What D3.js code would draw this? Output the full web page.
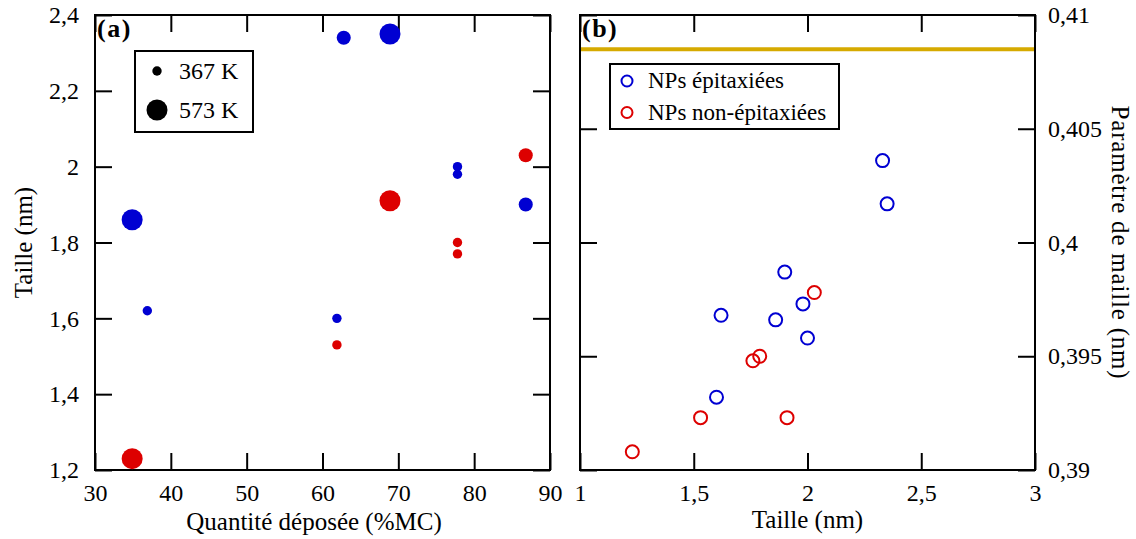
<!DOCTYPE html>
<html>
<head>
<meta charset="utf-8">
<script src="https://cdn.jsdelivr.net/npm/d3@7"></script>
<style>
  html, body { margin: 0; padding: 0; background: #fff; }
  svg { display: block; }
</style>
</head>
<body>
<svg id="chart" width="1136" height="539" font-family="Liberation Serif"></svg>
<script>
// ---------- DATA ----------
// Panel (a): deposited quantity vs size
const depot       = [34.9, 34.9, 36.9, 62.8, 68.9, 61.9, 61.9, 68.9, 77.8, 77.8, 77.8, 77.8, 86.8, 86.8];
const tailleA     = [1.86, 1.23, 1.62, 2.34, 2.35, 1.60, 1.53, 1.91, 2.00, 1.98, 1.80, 1.77, 2.03, 1.90];
const temperature = [573, 573, 367, 450, 573, 367, 367, 573, 367, 367, 367, 367, 450, 450];
const epitaxie    = [true, false, true, true, true, true, false, false, true, true, false, false, false, true];
const legendTemps = [367, 573];

// Panel (b): size vs lattice parameter
const tailleEpi    = [2.33, 2.35, 1.90, 1.62, 1.86, 1.98, 2.00, 1.60];
const mailleEpi    = [0.4036, 0.4017, 0.3987, 0.3968, 0.3966, 0.3973, 0.3958, 0.3932];
const tailleNonEpi = [2.03, 1.79, 1.76, 1.53, 1.91, 1.23];
const mailleNonEpi = [0.3978, 0.3950, 0.3948, 0.3923, 0.3923, 0.3908];
const mailleRef    = 0.4085;
const seriesNames  = ["NPs épitaxiées", "NPs non-épitaxiées"];

// Ticks
const xTicksA = [30, 40, 50, 60, 70, 80, 90];
const yTicksA = [1.2, 1.4, 1.6, 1.8, 2.0, 2.2, 2.4];
const xTicksB = [1, 1.5, 2, 2.5, 3];
const yTicksB = [0.39, 0.395, 0.4, 0.405, 0.41];

// ---------- STYLE ----------
const FONT = "Liberation Serif";
const BLUE = "#0000d2", RED = "#dd0000", GOLD = "#d6aa00";
const locale = d3.formatLocale({decimal: ",", thousands: " ", grouping: [3], currency: ["", ""]});
const fmt = locale.format("~g");

const svg = d3.select("#chart");
const yTop = 15, yBot = 470;
const A = {x0: 95, x1: 550};
const B = {x0: 580, x1: 1035};
const TICK = 17;

function styleAxis(g) {
  g.attr("font-family", FONT).attr("font-size", 24);
  g.select(".domain").remove();
  g.selectAll(".tick line").attr("stroke", "#000").attr("stroke-width", 2);
  g.selectAll(".tick text").attr("fill", "#000").attr("font-family", FONT).attr("font-size", 24);
}
function label(g, size) {
  return g.append("text").attr("font-family", FONT).attr("font-size", size).attr("fill", "#000");
}

// ---------- PANEL A ----------
const xA = d3.scaleLinear().domain([30, 90]).range([A.x0, A.x1]);
const yA = d3.scaleLinear().domain([1.2, 2.4]).range([yBot, yTop]);
const rA = d3.scaleLinear().domain([367, 573]).range([4.7, 10.5]);

const gA = svg.append("g");

gA.append("g").attr("transform", `translate(0,${yBot})`)
  .call(d3.axisBottom(xA).tickValues(xTicksA).tickFormat(fmt).tickSizeInner(-TICK).tickSizeOuter(0).tickPadding(14))
  .call(styleAxis);
gA.append("g").attr("transform", `translate(0,${yTop})`)
  .call(d3.axisTop(xA).tickValues(xTicksA).tickSizeInner(-TICK).tickSizeOuter(0).tickFormat(""))
  .call(styleAxis);
gA.append("g").attr("transform", `translate(${A.x0},0)`)
  .call(d3.axisLeft(yA).tickValues(yTicksA).tickFormat(fmt).tickSizeInner(-TICK).tickSizeOuter(0).tickPadding(16))
  .call(styleAxis);
gA.append("g").attr("transform", `translate(${A.x1},0)`)
  .call(d3.axisRight(yA).tickValues(yTicksA).tickSizeInner(-TICK).tickSizeOuter(0).tickFormat(""))
  .call(styleAxis);

gA.append("rect").attr("x", A.x0).attr("y", yTop).attr("width", A.x1 - A.x0).attr("height", yBot - yTop)
  .attr("fill", "none").attr("stroke", "#000").attr("stroke-width", 2);

const ptsA = depot.map((d, i) => ({x: d, y: tailleA[i], t: temperature[i], epi: epitaxie[i]}));
gA.append("g").selectAll("circle").data(ptsA).join("circle")
  .attr("cx", d => xA(d.x)).attr("cy", d => yA(d.y)).attr("r", d => rA(d.t))
  .attr("fill", d => d.epi ? BLUE : RED);

// legend A
const legA = gA.append("g");
legA.append("rect").attr("x", 135).attr("y", 51).attr("width", 118).attr("height", 81)
  .attr("fill", "#fff").attr("stroke", "#000").attr("stroke-width", 2);
legendTemps.forEach((t, i) => {
  const cy = 71 + i * 39;
  legA.append("circle").attr("cx", 157).attr("cy", cy).attr("r", rA(t)).attr("fill", "#000");
  label(legA, 24).attr("x", 179).attr("y", cy + 7.5).text(`${t} K`);
});

label(gA, 26).attr("x", 97).attr("y", 37).attr("font-weight", "bold").attr("letter-spacing", 1.5).text("(a)");

label(gA, 25).attr("x", 314).attr("y", 530).attr("text-anchor", "middle").text("Quantité déposée (%MC)");
label(gA, 25).attr("transform", `translate(32,${(yTop + yBot) / 2}) rotate(-90)`)
  .attr("text-anchor", "middle").text("Taille (nm)");

// ---------- PANEL B ----------
const xB = d3.scaleLinear().domain([1, 3]).range([B.x0, B.x1]);
const yB = d3.scaleLinear().domain([0.39, 0.41]).range([yBot, yTop]);
const gB = svg.append("g");

gB.append("g").attr("transform", `translate(0,${yBot})`)
  .call(d3.axisBottom(xB).tickValues(xTicksB).tickFormat(fmt).tickSizeInner(-TICK).tickSizeOuter(0).tickPadding(14))
  .call(styleAxis);
gB.append("g").attr("transform", `translate(0,${yTop})`)
  .call(d3.axisTop(xB).tickValues(xTicksB).tickSizeInner(-TICK).tickSizeOuter(0).tickFormat(""))
  .call(styleAxis);
gB.append("g").attr("transform", `translate(${B.x0},0)`)
  .call(d3.axisLeft(yB).tickValues(yTicksB).tickSizeInner(-TICK).tickSizeOuter(0).tickFormat(""))
  .call(styleAxis);
gB.append("g").attr("transform", `translate(${B.x1},0)`)
  .call(d3.axisRight(yB).tickValues(yTicksB).tickFormat(fmt).tickSizeInner(-TICK).tickSizeOuter(0).tickPadding(13))
  .call(styleAxis);

// reference line
gB.append("line").attr("x1", xB(1)).attr("x2", xB(3)).attr("y1", yB(mailleRef)).attr("y2", yB(mailleRef))
  .attr("stroke", GOLD).attr("stroke-width", 4);

gB.append("rect").attr("x", B.x0).attr("y", yTop).attr("width", B.x1 - B.x0).attr("height", yBot - yTop)
  .attr("fill", "none").attr("stroke", "#000").attr("stroke-width", 2);

const series = [
  {name: seriesNames[0], color: BLUE, xs: tailleEpi, ys: mailleEpi},
  {name: seriesNames[1], color: RED, xs: tailleNonEpi, ys: mailleNonEpi}
];
series.forEach(s => {
  gB.append("g").selectAll("circle").data(s.xs.map((x, i) => ({x, y: s.ys[i]}))).join("circle")
    .attr("cx", d => xB(d.x)).attr("cy", d => yB(d.y)).attr("r", 6.5)
    .attr("fill", "none").attr("stroke", s.color).attr("stroke-width", 2);
});

// legend B
const legB = gB.append("g");
legB.append("rect").attr("x", 610).attr("y", 64).attr("width", 229).attr("height", 65)
  .attr("fill", "#fff").attr("stroke", "#000").attr("stroke-width", 2);
series.forEach((s, i) => {
  const cy = 81 + i * 31.5;
  legB.append("circle").attr("cx", 627).attr("cy", cy).attr("r", 5.5)
    .attr("fill", "none").attr("stroke", s.color).attr("stroke-width", 2);
  label(legB, 23).attr("x", 648).attr("y", cy + 7).text(s.name);
});

label(gB, 26).attr("x", 582).attr("y", 37).attr("font-weight", "bold").attr("letter-spacing", 1.5).text("(b)");

label(gB, 25).attr("x", (B.x0 + B.x1) / 2).attr("y", 528).attr("text-anchor", "middle").text("Taille (nm)");
label(gB, 25).attr("transform", `translate(1112,${(yTop + yBot) / 2}) rotate(90)`)
  .attr("text-anchor", "middle").attr("letter-spacing", 0.8).text("Paramètre de maille (nm)");
</script>
</body>
</html>
